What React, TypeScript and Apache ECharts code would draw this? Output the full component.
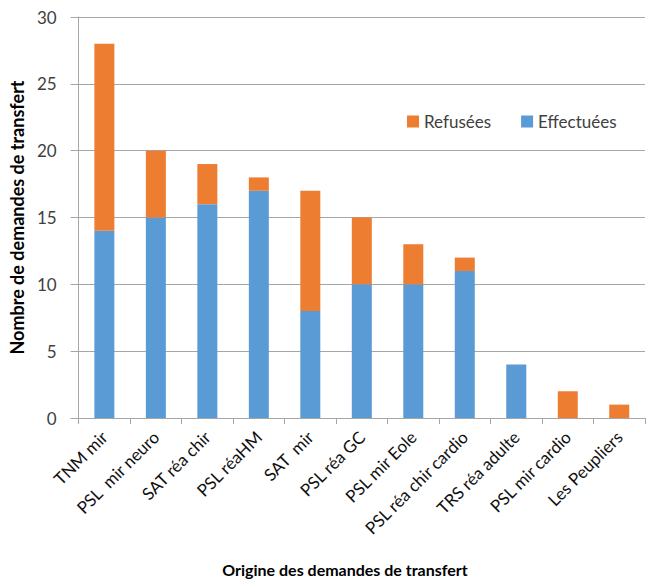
import React, { useEffect, useRef } from "react";
import * as echarts from "echarts";

const categories = [
  "TNM mir",
  "PSL  mir neuro",
  "SAT réa chir",
  "PSL réaHM",
  "SAT  mir",
  "PSL réa GC",
  "PSL mir Eole",
  "PSL réa chir cardio",
  "TRS réa adulte",
  "PSL mir cardio",
  "Les Peupliers",
];
const effectuees = [14, 15, 16, 17, 8, 10, 10, 11, 4, 0, 0];
const refusees = [14, 5, 3, 1, 9, 5, 3, 1, 0, 2, 1];

const FONT = "Lato, 'Open Sans', sans-serif";

export default function App() {
  const ref = useRef<HTMLDivElement>(null);
  useEffect(() => {
    if (!ref.current) return;
    const chart = echarts.init(ref.current, undefined, { renderer: "svg" });
    chart.setOption({
      animation: false,
      textStyle: { fontFamily: FONT },
      grid: { left: 76, right: 4, top: 17, bottom: 162, containLabel: false },
      legend: {
        data: ["Refusées", "Effectuées"],
        left: 402,
        top: 108,
        itemWidth: 12,
        itemHeight: 12,
        itemGap: 30,
        icon: "rect",
        textStyle: { fontSize: 17, color: "#404040", fontFamily: FONT },
      },
      graphic: [
        {
          type: "text",
          x: 345,
          y: 569,
          style: {
            text: "Origine des demandes de transfert",
            align: "center",
            verticalAlign: "middle",
            fontSize: 16,
            fontWeight: "bold",
            fill: "#000",
            fontFamily: FONT,
          },
        },
      ],
      xAxis: {
        type: "category",
        data: categories,
        axisLine: { lineStyle: { color: "#a6a6a6" } },
        axisTick: { show: true, length: 6, lineStyle: { color: "#a6a6a6" } },
        axisLabel: { rotate: 45, fontSize: 17, color: "#111", interval: 0, margin: 16, fontFamily: FONT },
      },
      yAxis: {
        type: "value",
        min: 0,
        max: 30,
        interval: 5,
        name: "Nombre de demandes de transfert",
        nameLocation: "middle",
        nameGap: 52,
        nameTextStyle: { fontSize: 18, fontWeight: "bold", color: "#000", fontFamily: FONT },
        axisLine: { show: true, lineStyle: { color: "#a6a6a6" } },
        axisTick: { show: true, length: 8, lineStyle: { color: "#a6a6a6" } },
        axisLabel: { fontSize: 17, color: "#404040", margin: 22, fontFamily: FONT },
        splitLine: { lineStyle: { color: "#a6a6a6", width: 1 } },
      },
      series: [
        {
          name: "Effectuées",
          type: "bar",
          stack: "total",
          data: effectuees,
          barWidth: 20,
          itemStyle: { color: "#5B9BD5" },
        },
        {
          name: "Refusées",
          type: "bar",
          stack: "total",
          data: refusees,
          barWidth: 20,
          itemStyle: { color: "#ED7D31" },
        },
      ],
    });
    return () => chart.dispose();
  }, []);
  return <div ref={ref} style={{ width: 649, height: 580, position: "absolute", left: 0, top: 0 }} />;
}
